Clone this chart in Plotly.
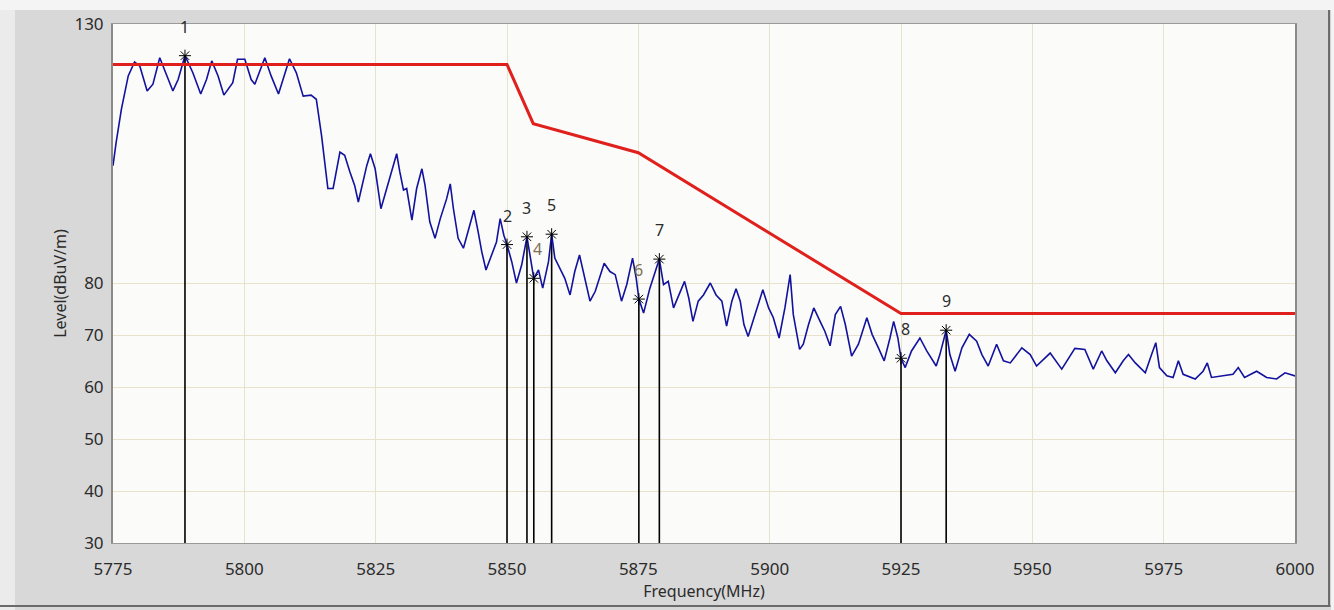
import plotly.graph_objects as go

# Measured field strength trace (frequency in MHz, level in dBuV/m)
freq = [
    5775.0, 5775.6, 5776.6, 5777.9, 5779.1, 5780.1, 5781.5, 5782.6, 5783.9, 5785.1,
    5786.4, 5787.4, 5788.7, 5790.2, 5791.7, 5792.8, 5793.8, 5795.0, 5796.1, 5797.8,
    5798.7, 5800.1, 5801.3, 5802.0, 5803.9, 5805.1, 5806.5, 5808.6, 5809.9, 5811.2,
    5812.7, 5813.7, 5814.7, 5815.9, 5816.9, 5818.2, 5819.1, 5820.1, 5821.0, 5821.7,
    5823.3, 5824.0, 5824.9, 5826.0, 5827.4, 5829.0, 5829.6, 5830.3, 5830.9, 5831.9,
    5832.8, 5833.8, 5834.4, 5835.3, 5836.3, 5837.3, 5838.5, 5839.2, 5839.8, 5840.7,
    5841.7, 5843.0, 5843.7, 5844.5, 5845.2, 5846.0, 5847.1, 5848.0, 5848.7, 5849.4,
    5850.0, 5850.9, 5851.8, 5852.8, 5853.8, 5854.4, 5855.1, 5856.0, 5856.8, 5857.9,
    5858.5, 5859.1, 5860.1, 5861.0, 5862.0, 5862.9, 5863.8, 5864.5, 5865.8, 5866.8,
    5868.5, 5869.6, 5870.6, 5871.8, 5872.8, 5873.9, 5874.6, 5875.1, 5876.0, 5877.2,
    5879.0, 5879.8, 5880.7, 5881.7, 5882.8, 5883.8, 5884.6, 5885.4, 5886.4, 5887.4,
    5888.7, 5889.8, 5890.9, 5891.8, 5892.8, 5893.6, 5894.4, 5895.1, 5895.9, 5897.2,
    5898.7, 5899.8, 5900.7, 5901.8, 5902.9, 5903.9, 5904.5, 5905.7, 5906.4, 5907.4,
    5908.4, 5909.6, 5910.5, 5911.5, 5912.5, 5913.5, 5914.4, 5915.6, 5916.9, 5918.5,
    5919.5, 5920.7, 5921.8, 5922.9, 5923.6, 5924.4, 5925.0, 5925.8, 5927.0, 5928.6,
    5929.9, 5931.7, 5932.4, 5933.6, 5934.3, 5935.3, 5936.6, 5938.0, 5939.4, 5940.4,
    5941.6, 5943.2, 5944.5, 5945.8, 5948.0, 5949.6, 5950.8, 5953.4, 5955.6, 5958.1,
    5960.0, 5961.6, 5963.2, 5964.2, 5965.8, 5967.3, 5968.3, 5969.6, 5971.5, 5972.7,
    5973.5, 5974.2, 5975.6, 5976.8, 5977.8, 5978.7, 5981.0, 5982.5, 5983.3, 5984.1,
    5986.3, 5988.2, 5989.2, 5990.4, 5992.7, 5994.6, 5996.5, 5998.1, 6000.0,
]
level = [
    102.7, 107.2, 113.6, 120.0, 122.7, 121.9, 117.1, 118.4, 123.5, 120.3,
    117.1, 119.3, 123.9, 120.6, 116.5, 119.3, 122.9, 120.0, 116.3, 118.7,
    123.2, 123.2, 119.3, 118.4, 123.5, 120.0, 116.5, 123.3, 120.6, 116.1,
    116.3, 115.5, 108.5, 98.3, 98.3, 105.3, 104.7, 101.5, 98.9, 95.7,
    102.7, 105.0, 102.1, 94.4, 99.5, 105.0, 101.5, 98.0, 98.3, 92.2,
    98.3, 102.1, 98.9, 91.9, 88.7, 92.5, 96.3, 99.2, 94.4, 88.7,
    86.8, 91.9, 94.1, 90.0, 86.1, 82.6, 85.5, 88.0, 92.5, 89.3,
    87.5, 84.2, 80.1, 83.6, 89.0, 85.5, 81.0, 82.6, 79.1, 84.2,
    89.5, 84.9, 82.9, 81.0, 77.8, 82.3, 85.5, 82.3, 76.6, 78.5,
    83.9, 82.3, 81.7, 76.6, 79.8, 84.9, 81.0, 77.0, 74.3, 79.1,
    84.7, 79.8, 80.4, 75.3, 77.8, 80.4, 77.2, 72.7, 76.6, 77.8,
    80.1, 77.8, 76.6, 71.8, 76.6, 79.0, 76.6, 72.1, 69.8, 74.0,
    78.8, 75.3, 73.4, 69.5, 75.3, 81.7, 74.0, 67.3, 68.3, 72.1,
    75.3, 72.7, 70.8, 68.0, 74.0, 75.6, 72.1, 66.0, 68.3, 73.4,
    70.2, 67.6, 65.1, 69.5, 72.7, 69.5, 65.6, 63.8, 67.0, 69.5,
    67.0, 64.1, 66.3, 71.0, 66.3, 63.1, 67.6, 70.2, 68.9, 66.3,
    64.1, 68.3, 65.1, 64.7, 67.6, 66.3, 64.1, 66.6, 63.5, 67.5,
    67.3, 63.5, 67.0, 65.1, 62.8, 65.1, 66.3, 64.7, 62.8, 66.3,
    68.6, 63.8, 62.2, 61.9, 65.1, 62.5, 61.6, 63.1, 64.7, 61.9,
    62.2, 62.5, 63.8, 61.9, 63.1, 61.9, 61.6, 62.8, 62.2,
]

# Emission limit mask
limit_freq = [5775, 5850, 5855, 5875, 5925, 6000]
limit_level = [122.2, 122.2, 110.8, 105.2, 74.2, 74.2]

# Marker readings
marker_id = ["1", "2", "3", "4", "5", "6", "7", "8", "9"]
marker_freq = [5788.7, 5850.0, 5853.8, 5855.1, 5858.5, 5875.1, 5879.0, 5925.0, 5933.6]
marker_level = [123.9, 87.5, 89.0, 81.0, 89.5, 77.0, 84.7, 65.6, 71.0]

y_ticks = [30, 40, 50, 60, 70, 80, 130]
x_ticks = [5775, 5800, 5825, 5850, 5875, 5900, 5925, 5950, 5975, 6000]

FONT = "Noto Sans"
TXT = "#2b2b2b"
FS = 17

fig = go.Figure()

# marker drop lines down to the axis floor
drop_x, drop_y = [], []
for f, l in zip(marker_freq, marker_level):
    drop_x += [f, f, None]
    drop_y += [l, y_ticks[0], None]
fig.add_trace(go.Scatter(x=drop_x, y=drop_y, mode="lines",
                         line=dict(color="black", width=1.6),
                         hoverinfo="skip", showlegend=False))

fig.add_trace(go.Scatter(x=freq, y=level, mode="lines",
                         line=dict(color="#12129e", width=1.6),
                         showlegend=False, name="Level"))

fig.add_trace(go.Scatter(x=limit_freq, y=limit_level, mode="lines",
                         line=dict(color="#e0201c", width=3),
                         showlegend=False, name="Limit"))

fig.add_trace(go.Scatter(x=marker_freq, y=marker_level, mode="markers",
                         marker=dict(symbol="asterisk-open", size=10, color="black",
                                     line=dict(color="black", width=1)),
                         showlegend=False, name="Markers"))

label_colors = {"4": "#7d6f55", "6": "#7d6f55"}
label_xshift = {"4": 4, "8": 4}
for m, f, l in zip(marker_id, marker_freq, marker_level):
    fig.add_annotation(x=f, y=l, text=m, showarrow=False, yshift=29,
                       xshift=label_xshift.get(m, 0),
                       font=dict(family=FONT, size=FS - 1, color=label_colors.get(m, TXT)))

# window frame decorations
fig.add_shape(type="rect", xref="paper", yref="paper", x0=-0.1, x1=1.04,
              y0=1.0268, y1=1.05, fillcolor="#f4f4f4", line_width=0, layer="below")
fig.add_shape(type="rect", xref="paper", yref="paper", x0=-0.1, x1=-0.0829,
              y0=-0.13, y1=1.0268, fillcolor="#ebebeb", line_width=0, layer="below")
fig.add_shape(type="line", xref="paper", yref="paper", x0=-0.1, x1=1.03,
              y0=-0.1215, y1=-0.1215, line=dict(color="#6a6a6a", width=2))
fig.add_shape(type="line", xref="paper", yref="paper", x0=1.0288, x1=1.0288,
              y0=-0.1215, y1=1.0268, line=dict(color="#6a6a6a", width=2))
fig.add_shape(type="rect", xref="paper", yref="paper", x0=1.0305, x1=1.04,
              y0=-0.13, y1=1.05, fillcolor="#f4f4f4", line_width=0, layer="below")

fig.update_layout(
    width=1334, height=610,
    margin=dict(l=113, r=39, t=21, b=67),
    paper_bgcolor="#d8d8d8",
    plot_bgcolor="#fbfbf9",
    font=dict(family=FONT, size=FS, color=TXT),
    showlegend=False,
)
fig.update_xaxes(
    range=[5775, 6000], tickvals=x_ticks, ticktext=[str(v) for v in x_ticks],
    showgrid=True, gridcolor="#e6e2cc", gridwidth=1,
    showline=True, linecolor="#9a9a9a", linewidth=1, mirror=True,
    ticks="", ticklabelstandoff=11, zeroline=False,
    title=dict(text="Frequency(MHz)", standoff=0, font=dict(size=FS - 1)),
)
fig.update_yaxes(
    range=[30, 130], tickvals=y_ticks, ticktext=[str(v) for v in y_ticks],
    showgrid=True, gridcolor="#e6e2cc", gridwidth=1,
    showline=True, linecolor="#8a8a8a", linewidth=2, mirror=True,
    ticks="", ticklabelstandoff=4, zeroline=False,
    title=dict(text="Level(dBuV/m)", standoff=4, font=dict(size=FS - 1)),
)

fig.write_html("out.html")
